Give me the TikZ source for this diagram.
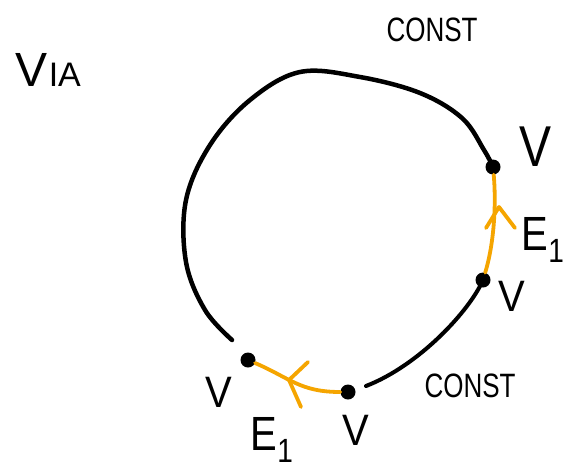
\documentclass[tikz,border=0pt]{standalone}
\usepackage{fontspec}
\setmainfont{Liberation Sans}
\definecolor{edgeorange}{RGB}{245,165,0}
\tikzset{
  vdot/.style={circle,fill=black,inner sep=0pt,minimum size=15pt},
  ring/.style={line width=4.5pt,line cap=round,line join=round,black},
  edge/.style={line width=3.8pt,line cap=round,line join=round,edgeorange},
  biglabel/.style={font=\fontsize{48}{48}\selectfont,inner sep=0pt},
  midlabel/.style={font=\fontsize{40}{40}\selectfont,inner sep=0pt},
  constlabel/.style={font=\fontsize{26}{26}\selectfont,inner sep=0pt}
}
\begin{document}
\begin{tikzpicture}[x=1pt,y=-1pt]
\useasboundingbox (0,0) rectangle (567,472);
% vertices
\node[vdot] (v1) at (493,167) {};
\node[vdot] (v2) at (483,280) {};
\node[vdot] (v3) at (348,392) {};
\node[vdot] (v4) at (248,360) {};
\coordinate (a1) at (232,340);
\coordinate (a2) at (366,386);
% chevron points
\coordinate (h1) at (499,207);
\coordinate (h1a) at (486,228);
\coordinate (h1b) at (515,228);
\coordinate (h2) at (289,380);
\coordinate (h2a) at (308,362);
\coordinate (h2b) at (301,407);
% big black arc
\draw[ring] plot[smooth,tension=0.6] coordinates {(a1) (205,310) (186,262) (186,200) (210,145) (250,100) (300,72) (360,77) (420,93) (462,118) (484,150) (v1.center)};
% lower black arc
\draw[ring,line width=4pt] (v2.center) .. controls (470,310) and (420,365) .. (a2);
% orange edges
\draw[edge] (v2) .. controls (495,240) and (496,200) .. (v1);
\draw[edge] (h1a) -- (h1) -- (h1b);
\draw[edge] (v3) .. controls (300,392) and (290,378) .. (v4);
\draw[edge] (h2a) -- (h2) -- (h2b);
% labels
\node[biglabel] (lv1) at (535,147) {\scalebox{1}[1.2]{V}};
\node[midlabel] (le1) at (543,240) {\scalebox{1}[1.2]{E\textsubscript{1}}};
\node[midlabel] (lv2) at (512,296) {\scalebox{1}[1.1]{V}};
\node[constlabel] (c1) at (432,30) {\scalebox{1}[1.3]{CONST}};
\node[constlabel] (c2) at (470,386) {\scalebox{1}[1.3]{CONST}};
\node[midlabel] (lv4) at (219,392) {\scalebox{1}[1.1]{V}};
\node[midlabel] (lv3) at (356,430) {\scalebox{1}[1.1]{V}};
\node[midlabel] (le2) at (272,440) {\scalebox{1}[1.2]{E\textsubscript{1}}};
\node[inner sep=0pt] (via) at (48,70) {{\fontsize{48}{48}\selectfont V}\,{\fontsize{34}{34}\selectfont IA}};
\end{tikzpicture}
\end{document}
